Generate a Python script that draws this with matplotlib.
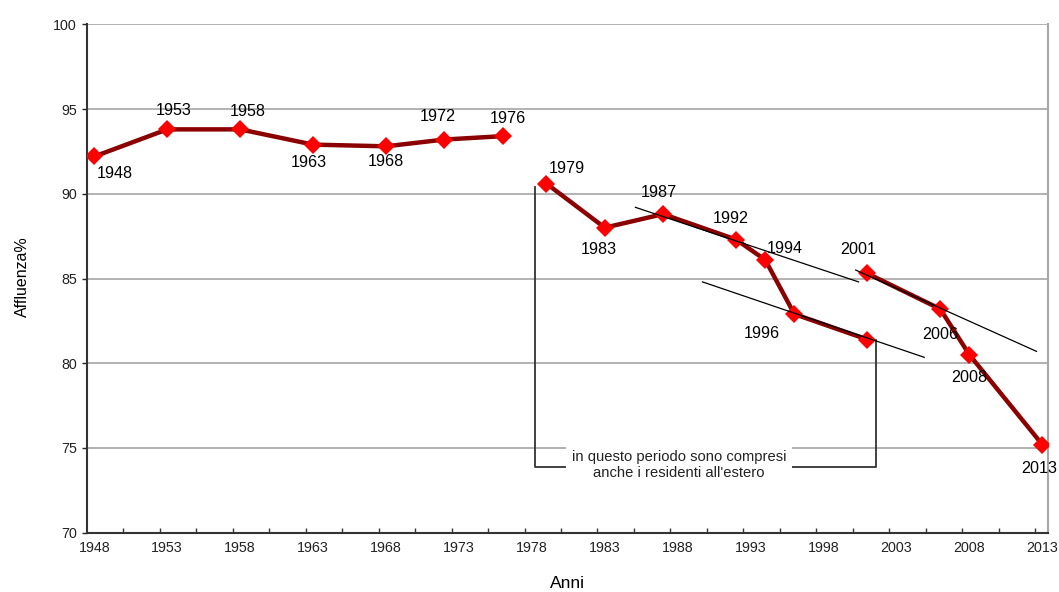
import matplotlib
matplotlib.use("Agg")
import matplotlib.pyplot as plt
from matplotlib.ticker import FixedLocator

plt.rcParams['font.family'] = ['Liberation Sans', 'DejaVu Sans']

# ---- data ----
years_a = [1948, 1953, 1958, 1963, 1968, 1972, 1976]
turnout_a = [92.2, 93.8, 93.8, 92.9, 92.8, 93.2, 93.4]
years_b = [1979, 1983, 1987, 1992, 1994, 1996, 2001]
turnout_b = [90.6, 88.0, 88.8, 87.3, 86.1, 82.9, 81.4]
years_c = [2001, 2006, 2008, 2013]
turnout_c = [85.3, 83.2, 80.5, 75.2]

label_years = ['1948', '1953', '1958', '1963', '1968', '1972', '1976',
               '1979', '1983', '1987', '1992', '1994', '1996',
               '2001', '2006', '2008', '2013']
label_x = [1948, 1953, 1958, 1963, 1968, 1972, 1976,
           1979, 1983, 1987, 1992, 1994, 1996,
           2001, 2006, 2008, 2013]
label_y = [92.2, 93.8, 93.8, 92.9, 92.8, 93.2, 93.4,
           90.6, 88.0, 88.8, 87.3, 86.1, 82.9,
           85.3, 83.2, 80.5, 75.2]

xtick_labels = [1948, 1953, 1958, 1963, 1968, 1973, 1978, 1983,
                1988, 1993, 1998, 2003, 2008, 2013]
ytick_labels = [70, 75, 80, 85, 90, 95, 100]

# trend lines (data coordinates)
trend1_x = [1985.1, 2000.4]
trend1_y = [89.2, 84.8]
trend2_x = [1989.7, 2004.9]
trend2_y = [84.8, 80.35]
trend3_x = [2000.2, 2012.6]
trend3_y = [85.5, 80.7]

# bracket for residents abroad
bracket_x = [1978.2, 1978.2, 2001.6, 2001.6]
bracket_y = [90.4, 73.9, 73.9, 81.4]

note_text = "in questo periodo sono compresi\nanche i residenti all'estero"

# label offsets in pixels (dx, dy downwards)
offsets = [(21, 17), (6, -19), (8, -18), (-4, 18), (0, 15), (-7, -23), (5, -18),
           (20, -15), (-6, 22), (-4, -22), (-5, -21), (20, -11), (-33, 19),
           (-9, -24), (0, 25), (0, 23), (-3, 24)]

# ---- figure ----
fig = plt.figure(figsize=(10.59, 5.92), dpi=100)
ax = fig.add_axes([87.3 / 1059, 59.3 / 592, (1048.3 - 87.3) / 1059, (532.7 - 24.3) / 592])

ax.set_xlim(1947.52, 2013.41)
ax.set_ylim(70, 100)

for yv in [75, 80, 85, 90, 95, 100]:
    ax.axhline(yv, color='#a6a6a6', lw=1.2, zorder=0)

line_col = '#8b0000'
mk = dict(marker='D', markersize=9.5, markerfacecolor='#ff0000', markeredgecolor='#ff0000',
          markeredgewidth=0, color=line_col, lw=3.2, zorder=4)
ax.plot(years_a, turnout_a, **mk)
ax.plot(years_b, turnout_b, **mk)
ax.plot(years_c, turnout_c, **mk)

for tx, ty in [(trend1_x, trend1_y), (trend2_x, trend2_y), (trend3_x, trend3_y)]:
    ax.plot(tx, ty, color='black', lw=0.9, zorder=5)

ax.plot(bracket_x, bracket_y, color='#333333', lw=1.3, zorder=3)

ax.text(1988.1, 74.0, note_text, ha='center', va='center', fontsize=10.6,
        linespacing=1.2, color='#222222', zorder=6,
        bbox=dict(facecolor='white', edgecolor='none', pad=4))

for txt, xv, yv, (dx, dy) in zip(label_years, label_x, label_y, offsets):
    ax.annotate(txt, (xv, yv), xytext=(dx, -dy), textcoords='offset pixels',
                ha='center', va='center', fontsize=11.6, color='black', zorder=7)

# spines
ax.spines['top'].set_visible(False)
ax.spines['right'].set_color('#a6a6a6')
ax.spines['right'].set_linewidth(1.5)
for s in ['left', 'bottom']:
    ax.spines[s].set_color('#333333')
    ax.spines[s].set_linewidth(1.5)

ax.yaxis.set_major_locator(FixedLocator(ytick_labels))
ax.set_yticklabels([str(v) for v in ytick_labels])
ax.tick_params(axis='y', direction='out', length=3.5, width=1, labelsize=10.3, pad=4,
               colors='#222222')

ax.xaxis.set_major_locator(FixedLocator(xtick_labels))
ax.set_xticklabels([str(v) for v in xtick_labels])
ax.xaxis.set_minor_locator(FixedLocator([1947.5 + 2.5 * k for k in range(27)]))
ax.tick_params(axis='x', which='major', length=0, labelsize=10.3, pad=6, colors='#222222')
ax.tick_params(axis='x', which='minor', direction='in', length=3.5, width=1, color='#333333')

fig.text(567 / 1059, 1 - 584 / 592, 'Anni', ha='center', va='center', fontsize=12.5)
fig.text(22 / 1059, 1 - 277 / 592, 'Affluenza%', ha='center', va='center', fontsize=11.5,
         rotation=90)

fig.savefig('out.png', dpi=100)
